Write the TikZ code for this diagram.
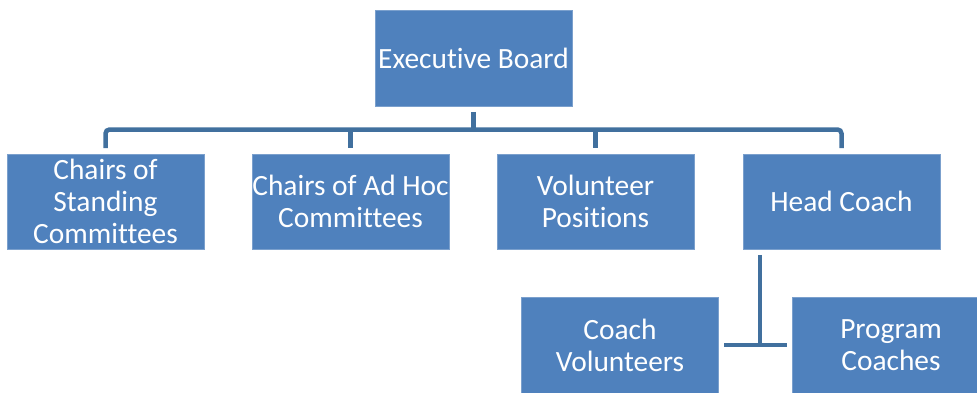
\documentclass[tikz,border=0pt]{standalone}
\usepackage{fontspec}
\setmainfont[Ligatures={NoCommon}]{Carlito}
\definecolor{boxblue}{HTML}{4F81BD}
\definecolor{lineblue}{HTML}{41709E}
\begin{document}
\begin{tikzpicture}[x=1pt, y=-1pt,
	font=\fontsize{29.4}{32}\selectfont,
	unit/.style={rectangle, fill=boxblue, draw=boxblue!75!white, line width=0.8pt,
		minimum width=197pt, minimum height=95pt, inner sep=0pt,
		text=white, align=center},
	link/.style={draw=lineblue, line width=4.5pt, shorten <=5.5pt, shorten >=5.5pt}]
	\useasboundingbox (0,0) rectangle (977,392);
	\clip (0,0) rectangle (977,392);
	%boxes
	\node[unit, minimum height=96pt] (exec) at (473.5,58) {Executive Board};
	\node[unit] (standing) at (105.5,201.5) {Chairs of\\Standing\\Committees};
	\node[unit] (adhoc) at (350.5,201.5) {Chairs of Ad Hoc\\Committees};
	\node[unit] (volunteer) at (595.5,201.5) {Volunteer\\Positions};
	\node[unit] (head) at (841.5,201.5) {Head Coach};
	\node[unit, minimum height=96pt] (coachvol) at (620,345) {Coach\\Volunteers};
	\node[unit, minimum height=96pt] (program) at (891,345) {Program\\Coaches};
	%bus
	\coordinate (bus) at (473.5,129.5);
	\coordinate (hub) at (760,345);
	%lines
	\draw[link, rounded corners=4pt] (standing.north) |- (bus) -| (head.north);
	\draw[link, shorten >=0pt] (exec.south) -- (exec |- bus);
	\foreach \n in {adhoc,volunteer}
	\draw[link, shorten <=0pt] (\n |- bus) -- (\n.north);
	\draw[link, shorten >=0pt] (hub |- head.south) -- (hub);
	\draw[link] (coachvol.east) -- (program.west);
\end{tikzpicture}
\end{document}
